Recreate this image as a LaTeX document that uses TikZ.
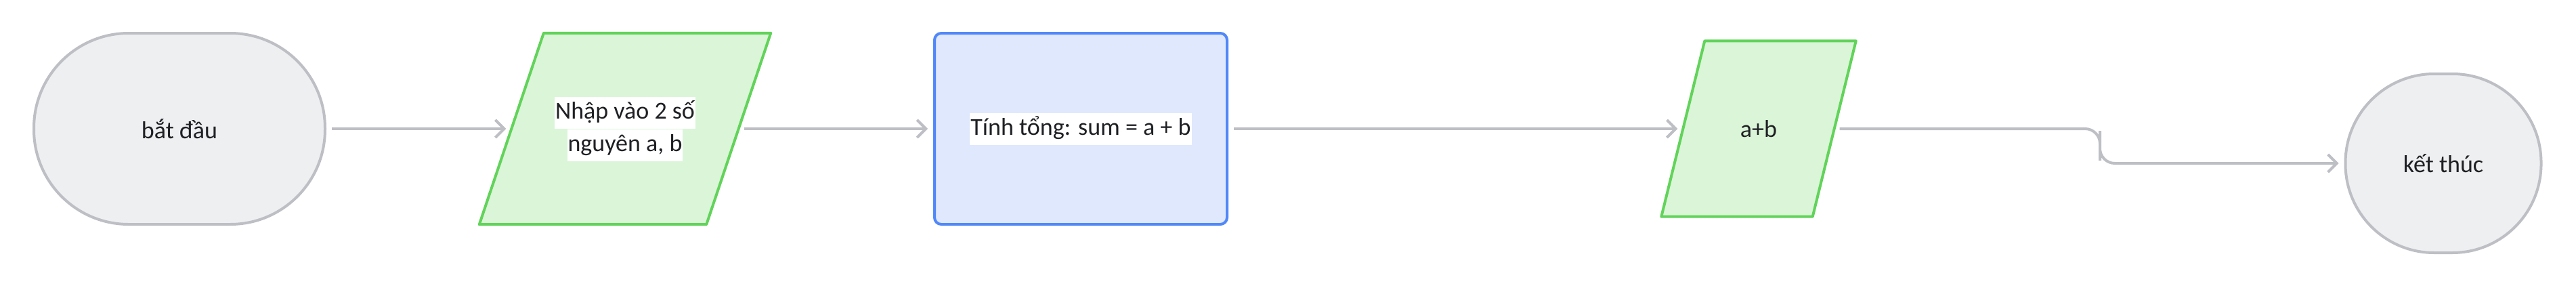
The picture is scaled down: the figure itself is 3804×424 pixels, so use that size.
\documentclass[tikz,border=0pt]{standalone}
\usepackage{fontspec}
\setmainfont{Carlito}
\usetikzlibrary{arrows.meta, backgrounds}
\definecolor{termfill}{HTML}{EEEFF1}
\definecolor{termline}{HTML}{BDBFC4}
\definecolor{iofill}{HTML}{DAF5D7}
\definecolor{ioline}{HTML}{62D35A}
\definecolor{procfill}{HTML}{E0E8FE}
\definecolor{procline}{HTML}{5188F8}
\definecolor{textgray}{HTML}{1F2024}
\newcommand{\onwhite}[1]{{\setlength{\fboxsep}{1pt}\colorbox{white}{\strut #1}}}
% slanted input/output box round a named node, #2 = half of the slant
\newcommand{\ioshape}[2]{%
  \draw[draw=ioline, fill=iofill, line width=4pt, line join=round]
    ([xshift=#2]#1.north west) -- ([xshift=#2]#1.north east) --
    ([xshift=-#2]#1.south east) -- ([xshift=-#2]#1.south west) -- cycle;}
\tikzset{
  >={Straight Barb[length=13pt, width=26pt]},
  every node/.style={font=\fontsize{36}{45}\selectfont, text=textgray, align=center},
  terminal/.style={rectangle, draw=termline, fill=termfill, line width=4pt, inner sep=0pt},
  io/.style={rectangle, inner sep=0pt},
  process/.style={rectangle, rounded corners=10pt, draw=procline, fill=procfill, line width=4pt, inner sep=0pt},
  flow/.style={->, draw=termline, line width=4pt, shorten <=8pt, shorten >=8pt},
}

\begin{document}
\begin{tikzpicture}
        \useasboundingbox (0pt,0pt) rectangle (3804pt,-424pt);

        % nodes
        \node[terminal, rounded corners=140pt, minimum width=430pt, minimum height=282pt] (start) at (265pt,-190pt) {bắt đầu};
        \node[io, minimum width=335pt, minimum height=282pt, node distance=658pt, right of=start] (input)
              {\onwhite{Nhập vào 2 số}\\\onwhite{nguyên a, b}};
        \node[process, minimum width=432pt, minimum height=282pt, node distance=673pt, right of=input] (sum)
              {\onwhite{Tính tổng: sum = a + b}};
        \node[io, minimum width=223pt, minimum height=259pt, node distance=1001pt, right of=sum] (output) {a+b};
        \node[terminal, rounded corners=131pt, minimum width=289pt, minimum height=264pt,
              node distance=1011pt, right of=output, yshift=-51pt] (stop) {kết thúc};
        \coordinate (bend) at (3101pt,-215pt);

        % input/output shapes
        \begin{scope}[on background layer]
          \ioshape{input}{47.5pt}
          \ioshape{output}{32pt}
        \end{scope}

        % connectors
        \draw[flow] (start) -- (input);
        \draw[flow] (input) -- (sum);
        \draw[flow] (sum) -- (output);
        \draw[flow, rounded corners=22pt] (output.east) -| (bend) |- (stop.west);
\end{tikzpicture}
\end{document}
